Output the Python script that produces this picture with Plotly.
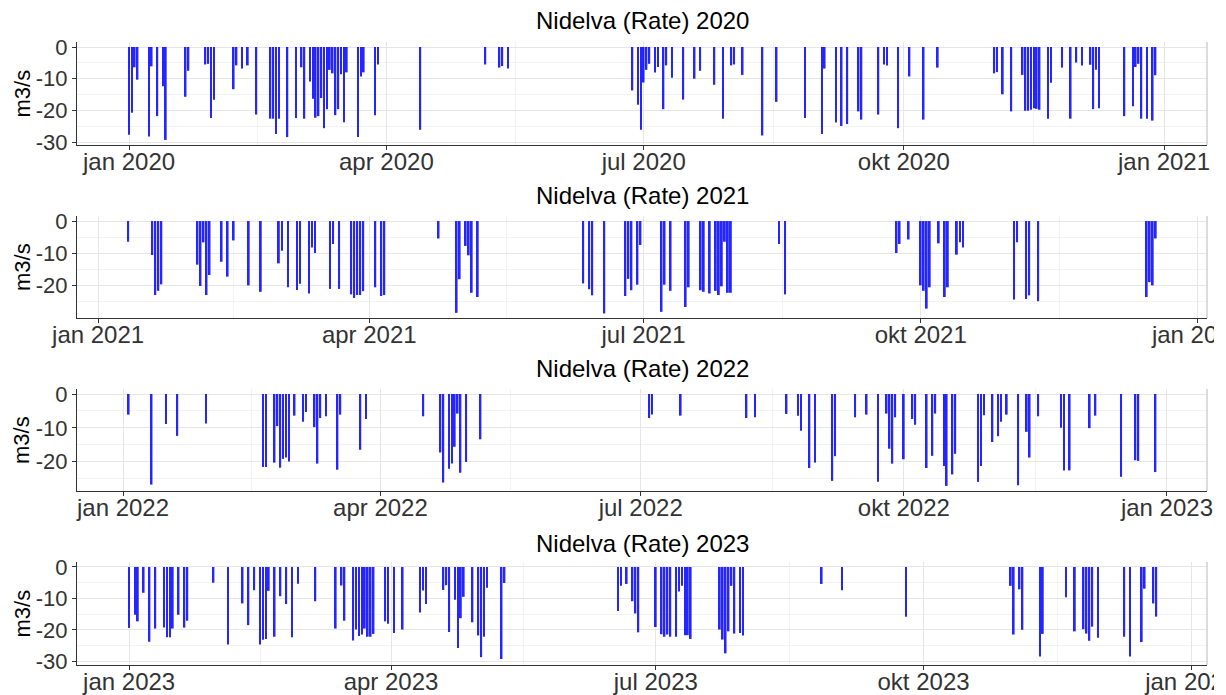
import pandas as pd
import plotly.graph_objects as go

# Daily discharge rate for Nidelva, stored as day offsets from 1 January of each year
days_2020 = [0, 1, 2, 3, 7, 8, 10, 12, 13, 20, 21, 27, 28, 29, 30, 37, 38, 40, 42, 45,
             50, 51, 52, 53, 56, 59, 61, 62, 64, 65, 66, 67, 68, 69, 70, 71, 72, 73, 74, 75,
             76, 77, 81, 82, 83, 87, 88, 103, 126, 131, 132, 134, 178, 180, 181, 182, 183, 184,
             186, 187, 189, 190, 192, 196, 200, 202, 207, 210, 213, 214, 217, 224, 229, 239,
             245, 246, 250, 252, 254, 258, 259, 265, 267, 268, 272, 276, 281, 286, 306, 307,
             309, 312, 316, 317, 318, 319, 320, 321, 322, 325, 326, 330, 333, 335, 337, 340,
             341, 342, 343, 352, 355, 356, 357, 358, 360, 362, 363]
rate_2020 = [-27.7, -20.7, -6.4, -10.3, -28.2, -6.1, -21.8, -12.4, -29.3, -15.7, -7.5, -5.5,
             -5.3, -22.4, -16.6, -13.3, -5.8, -6.8, -5.8, -21.3, -22.6, -22.6, -27.4, -22.6,
             -28.4, -22.4, -6.4, -22.6, -10.9, -16.3, -22.3, -21.8, -16.1, -25.6, -19.6, -7.2,
             -8.3, -21.5, -19.6, -8.6, -23.7, -8.0, -28.4, -9.3, -8.0, -21.5, -5.5, -26.1,
             -5.5, -6.5, -6.0, -6.8, -13.7, -18.2, -26.1, -11.2, -7.2, -5.3, -8.0, -6.3, -19.6,
             -5.8, -9.7, -16.6, -10.0, -7.5, -11.9, -22.6, -5.8, -5.5, -8.8, -27.9, -17.3,
             -22.4, -27.4, -6.8, -23.8, -24.9, -24.3, -20.3, -22.9, -21.3, -5.5, -5.8, -25.6,
             -9.3, -22.9, -6.5, -8.3, -7.9, -14.9, -20.3, -8.8, -20.1, -20.1, -19.8, -19.3,
             -19.5, -19.8, -22.6, -11.3, -6.5, -22.6, -4.9, -5.8, -5.6, -19.6, -7.2, -19.3,
             -21.8, -18.7, -6.3, -5.3, -22.6, -22.6, -23.2, -8.9]

days_2021 = [10, 18, 19, 20, 21, 33, 34, 35, 36, 37, 41, 43, 45, 50, 54, 60, 61, 63, 66, 67,
             70, 71, 72, 77, 78, 80, 84, 85, 86, 87, 88, 92, 94, 95, 113, 119, 120, 122, 123,
             124, 126, 161, 163, 164, 168, 175, 176, 177, 179, 180, 187, 188, 190, 195, 196,
             200, 201, 203, 205, 206, 207, 208, 209, 210, 226, 228, 265, 266, 269, 273, 274,
             275, 276, 279, 281, 282, 285, 286, 287, 304, 305, 308, 309, 312, 348, 349, 350,
             351]
rate_2021 = [-6.4, -10.5, -22.9, -21.6, -19.6, -13.5, -20.1, -6.6, -22.9, -16.7, -12.6, -17.2,
             -6.0, -19.9, -21.9, -13.1, -9.2, -20.5, -21.3, -19.4, -22.4, -8.2, -9.9, -21.0,
             -7.1, -21.0, -22.7, -23.8, -22.9, -22.9, -21.7, -20.5, -23.2, -22.9, -5.4, -28.4,
             -18.0, -7.7, -10.6, -22.2, -23.5, -19.3, -21.1, -23.0, -28.6, -23.2, -17.9, -21.4,
             -19.7, -7.4, -28.1, -19.7, -21.6, -26.6, -20.5, -21.4, -21.9, -22.4, -21.6, -22.9,
             -20.2, -6.4, -22.2, -22.2, -7.1, -22.7, -9.9, -7.1, -5.7, -19.9, -21.6, -27.1,
             -20.5, -6.9, -23.5, -20.5, -10.4, -6.6, -8.2, -24.3, -6.6, -24.1, -23.0, -24.8,
             -23.5, -18.9, -19.9, -5.4]

days_2022 = [2, 10, 15, 19, 29, 49, 50, 53, 54, 55, 56, 57, 58, 60, 63, 64, 67, 68, 69, 71,
             75, 76, 83, 85, 105, 111, 112, 114, 115, 116, 117, 118, 120, 125, 184, 185, 195,
             218, 221, 232, 236, 237, 240, 242, 248, 249, 256, 260, 264, 267, 268, 269, 270,
             273, 276, 277, 281, 283, 284, 287, 288, 290, 291, 299, 300, 301, 304, 306, 307,
             309, 313, 316, 317, 320, 328, 329, 331, 338, 340, 349, 354, 355, 361]
rate_2022 = [-6.1, -26.8, -8.9, -12.4, -8.7, -21.6, -21.6, -20.3, -9.5, -21.8, -19.2, -18.8,
             -20.0, -6.4, -8.2, -5.3, -9.8, -20.6, -7.1, -6.6, -22.4, -6.1, -16.5, -7.4, -6.6,
             -17.3, -26.2, -22.1, -20.6, -15.6, -5.8, -23.3, -20.1, -13.4, -7.1, -6.1, -6.4,
             -7.1, -6.9, -5.9, -6.4, -10.9, -21.9, -20.3, -25.7, -18.4, -6.9, -6.1, -26.0,
             -5.8, -16.2, -20.6, -6.9, -19.3, -7.4, -9.1, -21.9, -18.3, -5.8, -21.3, -27.2,
             -23.8, -17.7, -26.0, -21.3, -6.3, -14.2, -12.5, -8.2, -6.1, -27.0, -11.2, -18.8,
             -6.6, -10.0, -22.6, -22.6, -10.1, -6.4, -24.5, -19.6, -19.8, -23.1]

days_2023 = [0, 2, 3, 5, 7, 9, 12, 13, 14, 15, 17, 19, 20, 29, 34, 39, 41, 43, 45, 46, 47, 48,
             50, 52, 54, 56, 58, 64, 71, 73, 74, 77, 78, 79, 80, 81, 82, 83, 84, 88, 89, 91,
             94, 100, 101, 102, 108, 109, 110, 112, 113, 114, 115, 118, 120, 121, 122, 123,
             128, 129, 168, 169, 171, 173, 174, 175, 181, 183, 184, 185, 186, 188, 189, 190,
             191, 192, 193, 203, 204, 205, 206, 207, 208, 210, 211, 238, 245, 267, 303, 304,
             306, 307, 313, 314, 322, 325, 328, 329, 330, 331, 333, 342, 344, 348, 349, 352,
             353]
rate_2023 = [-19.4, -15.2, -17.3, -8.2, -23.8, -19.6, -19.3, -22.4, -22.4, -19.6, -15.2, -19.3,
             -17.1, -5.0, -24.7, -11.6, -18.5, -7.4, -24.7, -23.2, -22.9, -7.6, -22.2, -9.3,
             -11.8, -22.4, -5.3, -10.9, -19.6, -5.9, -17.1, -23.4, -19.9, -22.0, -21.5, -19.6,
             -22.2, -22.2, -21.3, -17.3, -18.1, -21.0, -19.9, -14.5, -7.5, -11.8, -7.3, -5.8,
             -20.7, -10.4, -25.8, -16.3, -9.5, -17.6, -21.8, -28.7, -22.2, -6.6, -29.3, -5.1,
             -14.0, -6.0, -5.4, -10.9, -14.8, -20.8, -19.1, -21.4, -22.2, -21.5, -22.2, -22.2,
             -7.8, -6.0, -21.7, -21.7, -22.9, -19.9, -23.1, -27.5, -20.5, -6.0, -21.2, -21.0,
             -21.8, -5.4, -7.4, -15.8, -6.0, -21.5, -7.1, -20.0, -28.5, -21.3, -9.6, -20.5,
             -19.8, -21.2, -23.5, -19.0, -22.5, -22.2, -28.5, -23.9, -6.9, -11.6, -15.8]

years = [2020, 2021, 2022, 2023]
day_lists = [days_2020, days_2021, days_2022, days_2023]
rate_lists = [rate_2020, rate_2021, rate_2022, rate_2023]
month_labels = ["jan", "apr", "jul", "okt"]
y_ticks = [[0, -10, -20, -30], [0, -10, -20], [0, -10, -20], [0, -10, -20, -30]]

# Figure geometry (pixels)
W, H = 1226, 695
X_LEFT, X_RIGHT = 77, 1207
# (panel top px, panel bottom px, y min, y max)
panels = [(42, 145, -30.9, 1.58),
          (216, 318, -30.0, 1.56),
          (389, 491, -28.7, 1.48),
          (562, 665, -31.2, 1.59)]
# x range of each panel
x_ranges = [("2019-12-13 14:00", "2021-01-16 05:00"),
            ("2020-12-25 00:00", "2022-01-04 00:00"),
            ("2021-12-15 22:00", "2023-01-15 00:00"),
            ("2022-12-14 02:00", "2024-01-06 10:00")]
title_y = [20, 195, 368, 543]

FONT = "Liberation Sans, Arial, sans-serif"
AXIS_COL = "#333333"
TICK_COL = "#333333"
GRID_MAJOR = "#e6e6e6"
GRID_MINOR = "#f2f2f2"
DAY_MS = 86400000

fig = go.Figure()
layout = dict(
    width=W, height=H,
    margin=dict(l=0, r=0, t=0, b=0),
    paper_bgcolor="white", plot_bgcolor="white",
    showlegend=False,
    font=dict(family=FONT),
    annotations=[], shapes=[],
)

for i, year in enumerate(years):
    sfx = "" if i == 0 else str(i + 1)
    top, bot, ymin, ymax = panels[i]
    start = pd.Timestamp(f"{year}-01-01")
    dates = start + pd.to_timedelta(day_lists[i], unit="D")

    fig.add_trace(go.Bar(
        x=dates, y=rate_lists[i], width=0.6 * DAY_MS,
        marker=dict(color="#0000ff", line=dict(width=0)), opacity=0.85,
        xaxis="x" + sfx, yaxis="y" + sfx,
    ))

    major = [pd.Timestamp(f"{year}-{m:02d}-01") for m in (1, 4, 7, 10)]
    major.append(pd.Timestamp(f"{year + 1}-01-01"))
    labels = [f"{m} {year}" for m in month_labels] + [f"jan {year + 1}"]
    minor = [major[k] + (major[k + 1] - major[k]) / 2 for k in range(4)]

    layout["xaxis" + sfx] = dict(
        domain=[X_LEFT / W, X_RIGHT / W], anchor="y" + sfx, type="date",
        range=list(x_ranges[i]),
        tickmode="array", tickvals=major, ticktext=labels,
        tickfont=dict(family=FONT, size=24, color=TICK_COL),
        ticklabeloverflow="allow", ticklabelstandoff=-9,
        ticks="outside", ticklen=4, tickwidth=1.2, tickcolor=AXIS_COL,
        showline=True, linecolor=AXIS_COL, linewidth=1.2,
        showgrid=True, gridcolor=GRID_MAJOR, gridwidth=1.2, zeroline=False,
        minor=dict(tickmode="array", tickvals=minor, showgrid=True,
                   gridcolor=GRID_MINOR, gridwidth=1, ticks=""),
        fixedrange=True, automargin=False,
    )
    layout["yaxis" + sfx] = dict(
        domain=[1 - bot / H, 1 - top / H], anchor="x" + sfx,
        range=[ymin, ymax],
        tickmode="array", tickvals=y_ticks[i], ticktext=[str(v) for v in y_ticks[i]],
        tickfont=dict(family=FONT, size=22, color=TICK_COL),
        ticks="outside", ticklen=4, tickwidth=1.2, tickcolor=AXIS_COL,
        showline=True, linecolor=AXIS_COL, linewidth=1.2,
        showgrid=True, gridcolor=GRID_MAJOR, gridwidth=1.2, zeroline=False,
        minor=dict(tickmode="array", tickvals=[-5, -15, -25], showgrid=True,
                   gridcolor=GRID_MINOR, gridwidth=1, ticks=""),
        fixedrange=True, automargin=False,
    )

    # panel title
    layout["annotations"].append(dict(
        text=f"Nidelva (Rate) {year}", xref="paper", yref="paper",
        x=(X_LEFT + X_RIGHT) / 2 / W, y=1 - title_y[i] / H,
        xanchor="center", yanchor="middle", showarrow=False,
        font=dict(family=FONT, size=24, color="black"),
    ))
    # y axis title
    layout["annotations"].append(dict(
        text="m3/s", xref="paper", yref="paper",
        x=22 / W, y=1 - (top + bot) / 2 / H, textangle=-90,
        xanchor="center", yanchor="middle", showarrow=False,
        font=dict(family=FONT, size=22, color="black"),
    ))
    # right panel edge
    layout["shapes"].append(dict(
        type="line", xref="paper", yref="paper",
        x0=X_RIGHT / W, x1=X_RIGHT / W, y0=1 - bot / H, y1=1 - top / H,
        line=dict(color="#d0d0d0", width=1.5), layer="above",
    ))

# page edge beyond the plot
layout["shapes"].append(dict(
    type="rect", xref="paper", yref="paper", x0=1214 / W, x1=1, y0=0, y1=1,
    fillcolor="white", line=dict(width=0), layer="above",
))

fig.update_layout(**layout)
fig.write_html("out.html")
